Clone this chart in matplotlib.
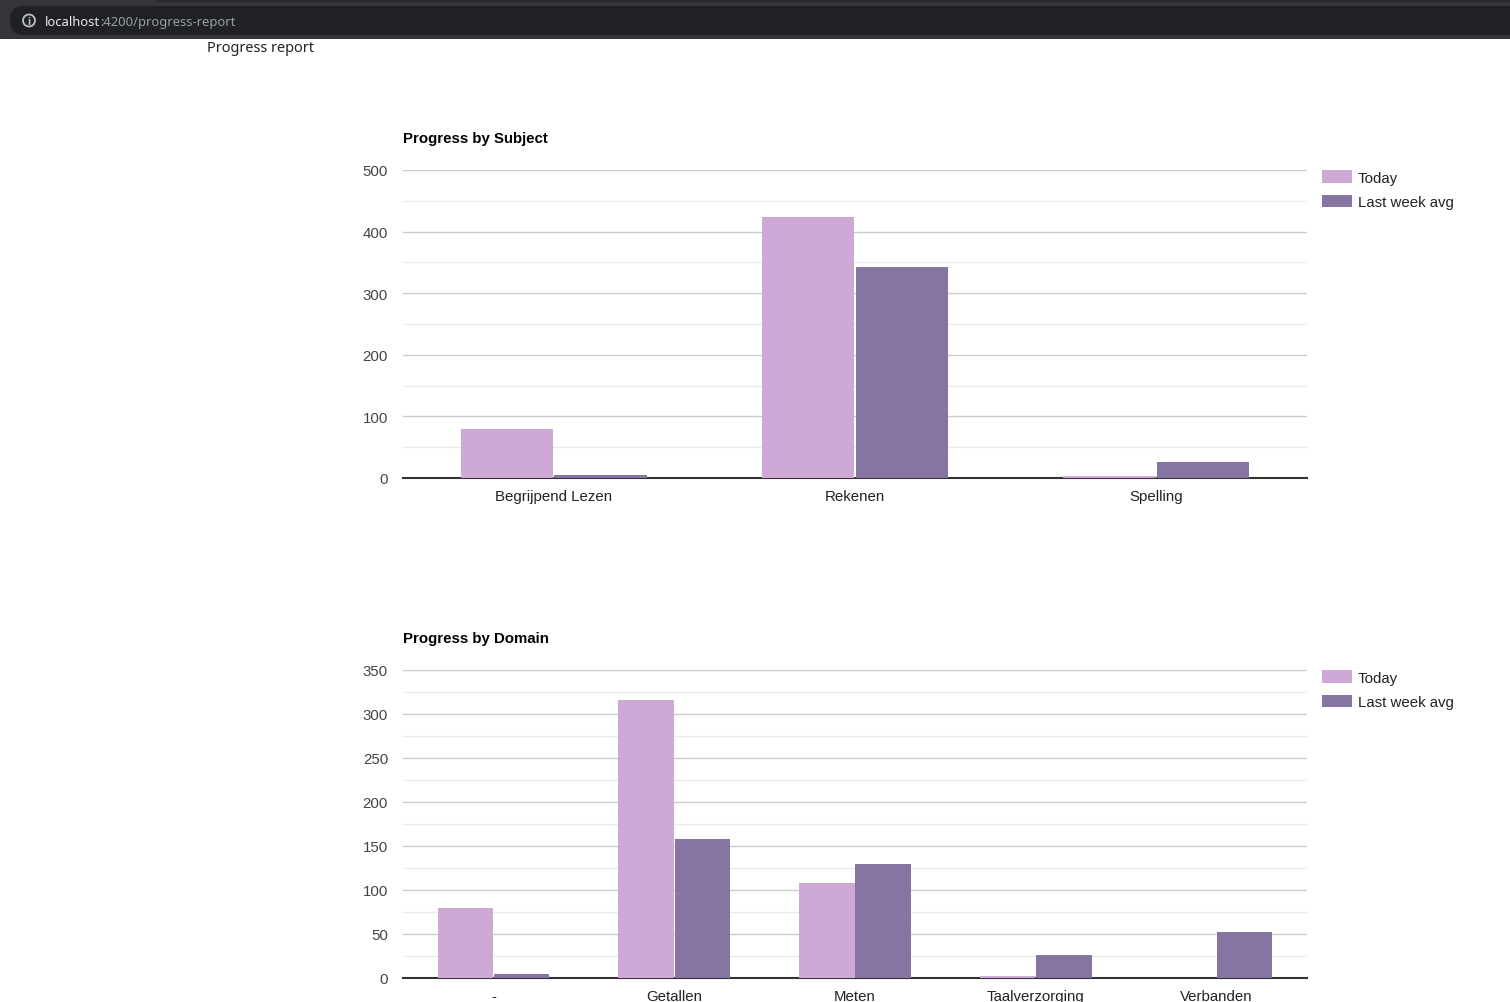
import numpy as np
import matplotlib
matplotlib.use("Agg")
import matplotlib.pyplot as plt
from matplotlib.patches import Rectangle, FancyBboxPatch, Circle, Patch

# ---------------- data ----------------
subject_categories = ["Begrijpend Lezen", "Rekenen", "Spelling"]
subject_today = [80, 424, 2.5]
subject_last_week = [5, 343, 26]

domain_categories = ["-", "Getallen", "Meten", "Taalverzorging", "Verbanden"]
domain_today = [80, 316, 108, 2.5, 0]
domain_last_week = [5, 158, 130, 26, 52]

series_labels = ["Today", "Last week avg"]
subject_title = "Progress by Subject"
domain_title = "Progress by Domain"
page_title = "Progress report"

# ---------------- style ----------------
W, H = 1510, 1003
DPI = 100
C_TODAY = "#cea9d6"
C_LAST = "#8675a2"
FONT = ["Liberation Sans", "DejaVu Sans"]
plt.rcParams["font.family"] = FONT
PX = 0.72  # px -> pt at 100 dpi
FS = 15 * PX

fig = plt.figure(figsize=(W / DPI, H / DPI), dpi=DPI)
fig.patch.set_facecolor("white")


def fx(x):
    return x / W


def fy(y):
    return 1 - y / H


# ---- browser bar ----
bar_ax = fig.add_axes([0, 0, 1, 1], zorder=-1)
bar_ax.set_xlim(0, W)
bar_ax.set_ylim(H, 0)
bar_ax.axis("off")
bar_ax.add_patch(Rectangle((0, 0), W, 40, color="#35363a", lw=0))
bar_ax.add_patch(Rectangle((155, 0), W - 155, 3, color="#2a2b2e", lw=0))
bar_ax.add_patch(FancyBboxPatch((10, 7), W + 40, 29,
                                boxstyle="round,pad=0,rounding_size=14",
                                color="#202124", lw=0))
bar_ax.add_patch(Circle((29, 21.5), 6, fill=False, ec="#bdc1c6", lw=1.3))
bar_ax.text(29, 22, "i", color="#bdc1c6", fontsize=8, ha="center",
            va="center", fontweight="bold")
t1 = bar_ax.text(45, 22.5, "localhost", color="#e8eaed", fontsize=13 * PX,
                 ha="left", va="center", family=["Noto Sans", "DejaVu Sans"])
fig.canvas.draw()
bb = t1.get_window_extent()
x_end = bb.x1 / fig.dpi * DPI
bar_ax.text(x_end, 22.5, ":4200/progress-report", color="#9aa0a6",
            fontsize=13 * PX, ha="left", va="center",
            family=["Noto Sans", "DejaVu Sans"])

fig.text(fx(207), fy(48.5), page_title, color="#222222", fontsize=14.5 * PX,
         ha="left", va="center", family=["Noto Sans", "DejaVu Sans"])


def make_chart(top_px, cats, today, last, ymax, major, minor, title):
    left, right = 403, 1307
    top = top_px + 1
    bottom = top + 308
    ax = fig.add_axes([fx(left), fy(bottom), fx(right - left), 308 / H])
    x = np.arange(len(cats))
    bw = 0.307
    gap = 0.0017
    ax.bar(x - bw / 2 - gap, today, width=bw, color=C_TODAY, zorder=5,
           label=series_labels[0])
    ax.bar(x + bw / 2 + gap, last, width=bw, color=C_LAST, zorder=5,
           label=series_labels[1])
    ax.set_xlim(-0.5, len(cats) - 0.5)
    ax.set_ylim(0, ymax)
    ax.set_yticks(np.arange(0, ymax + 1, major))
    ax.set_yticks(np.arange(minor, ymax, major), minor=True)
    ax.grid(axis="y", which="major", color="#cccccc", lw=1, zorder=0)
    ax.grid(axis="y", which="minor", color="#ebebeb", lw=1, zorder=0)
    ax.axhline(0, color="#333333", lw=1.5, zorder=4, clip_on=False)
    for s in ax.spines.values():
        s.set_visible(False)
    ax.set_xticks(x)
    ax.set_xticklabels(cats)
    ax.tick_params(axis="y", which="both", length=0, pad=15 * PX,
                   labelsize=FS, labelcolor="#444444")
    ax.tick_params(axis="x", length=0, pad=11 * PX, labelsize=FS,
                   labelcolor="#222222")
    fig.text(fx(403), fy(top_px - 31), title, fontsize=FS,
             fontweight="bold", color="#000000", ha="left", va="center")
    handles = [Patch(facecolor=C_TODAY, edgecolor="none"),
               Patch(facecolor=C_LAST, edgecolor="none")]
    fig.legend(handles, series_labels, loc="upper left",
               bbox_to_anchor=(fx(1322), fy(top_px + 1)), frameon=False,
               fontsize=FS, handlelength=2.0, handleheight=0.93,
               handletextpad=0.4, labelspacing=0.67, borderpad=0,
               borderaxespad=0, labelcolor="#222222")
    return ax


make_chart(170, subject_categories, subject_today, subject_last_week,
           500, 100, 50, subject_title)
make_chart(670, domain_categories, domain_today, domain_last_week,
           350, 50, 25, domain_title)

fig.savefig("out.png", dpi=DPI)
